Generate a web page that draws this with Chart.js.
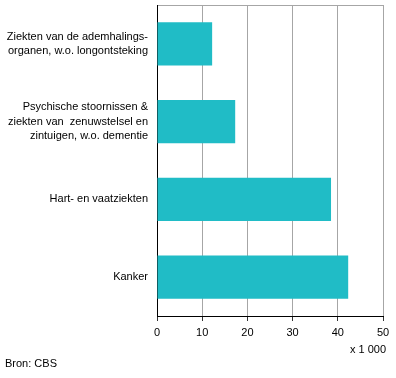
<!DOCTYPE html>
<html>
<head>
<meta charset="utf-8">
<script src="https://cdn.jsdelivr.net/npm/chart.js@4/dist/chart.umd.min.js"></script>
<style>
  html, body { margin: 0; padding: 0; background: #fff; }
  #wrap { width: 396px; height: 378px; }
</style>
</head>
<body>
<div id="wrap"><canvas id="myBarChart" width="396" height="378"></canvas></div>
<script>
// categories (multi-line labels) and values, x 1 000
const causes = [
  ['Ziekten van de ademhalings-', 'organen, w.o. longontsteking'],
  ['Psychische stoornissen &', 'ziekten van  zenuwstelsel en', 'zintuigen, w.o. dementie'],
  'Hart- en vaatziekten',
  'Kanker'
];
const deaths = [12.2, 17.3, 38.5, 42.3];
const xTicks = [0, 10, 20, 30, 40, 50];
const unitNote = 'x 1 000';
const sourceNote = 'Bron: CBS';

const font = { family: 'Arial, "Liberation Sans", sans-serif', size: 11 };

// footnotes under the chart
const notes = {
  id: 'notes',
  afterDraw(chart) {
    const ctx = chart.ctx;
    const x = chart.scales.x;
    ctx.save();
    ctx.fillStyle = '#000';
    ctx.font = `${font.size}px ${font.family}`;
    ctx.textBaseline = 'middle';
    ctx.textAlign = 'right';
    ctx.fillText(unitNote, x.right + 3, 350);
    ctx.textAlign = 'left';
    ctx.fillText(sourceNote, 5, 364);
    ctx.restore();
  }
};

Chart.defaults.font = font;
Chart.defaults.color = '#000';

new Chart(document.getElementById('myBarChart').getContext('2d'), {
  type: 'bar',
  data: {
    labels: causes,
    datasets: [{
      data: deaths,
      backgroundColor: '#20bcc6',
      borderWidth: 0,
      barPercentage: 0.555,
      categoryPercentage: 1
    }]
  },
  options: {
    indexAxis: 'y',
    responsive: false,
    animation: false,
    layout: { padding: { top: 5, right: 13, bottom: 40, left: 0 } },
    plugins: {
      legend: { display: false },
      tooltip: { enabled: false }
    },
    scales: {
      x: {
        min: 0,
        max: 50,
        afterBuildTicks(scale) {
          scale.ticks = xTicks.map(v => ({ value: v }));
        },
        afterFit(scale) {
          scale.height = 22;
          scale.paddingLeft = 0;
          scale.paddingRight = 0;
        },
        grid: {
          color: '#a6a6a6',
          tickColor: '#333',
          tickLength: 5,
          lineWidth: 1
        },
        border: { color: '#000', width: 1 },
        ticks: { padding: 5, font, color: '#000', maxRotation: 0 }
      },
      y: {
        afterFit(scale) {
          scale.width = 157;
          scale.paddingTop = 0;
          scale.paddingBottom = 0;
        },
        grid: {
          drawTicks: false,
          color: ctx => ctx.index === 0 ? '#a6a6a6' : 'rgba(0,0,0,0)'
        },
        border: { color: '#000', width: 1 },
        ticks: { padding: 9, font: { ...font, lineHeight: 1.32 }, color: '#000' }
      }
    }
  },
  plugins: [notes]
});
</script>
</body>
</html>
